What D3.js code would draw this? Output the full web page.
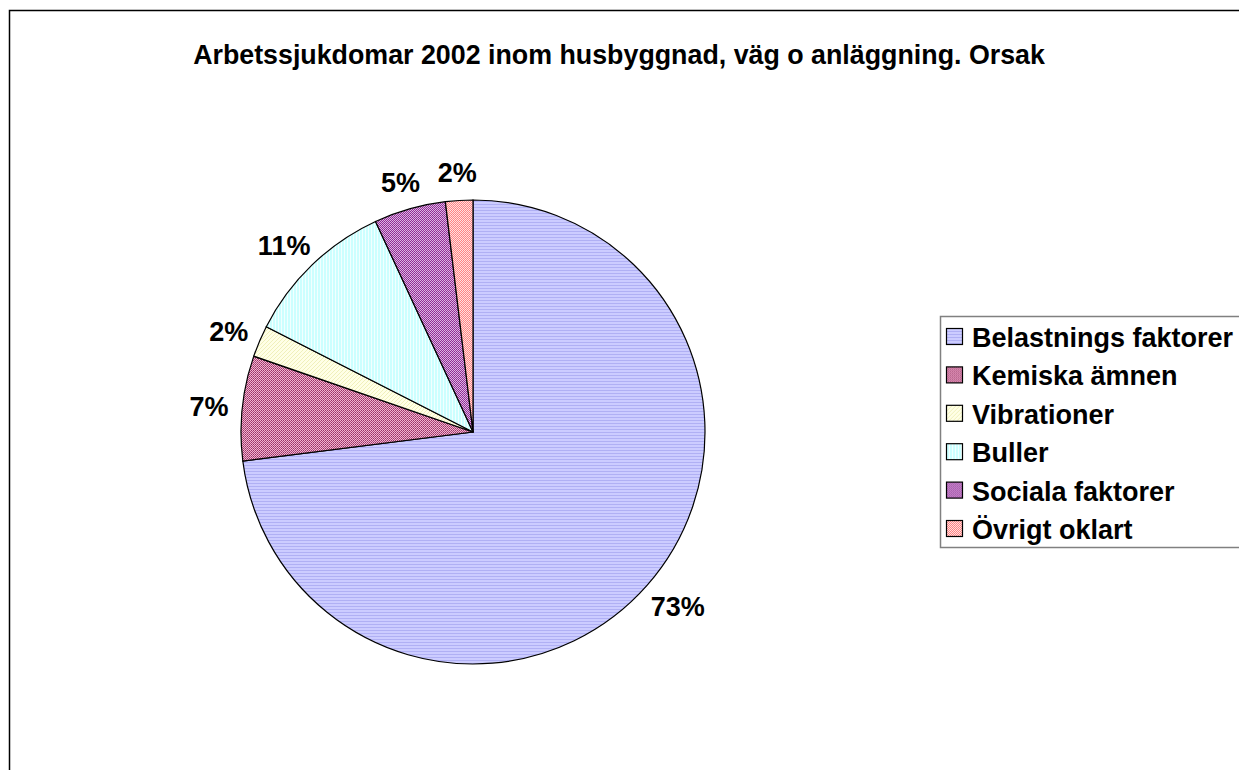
<!DOCTYPE html>
<html>
<head>
<meta charset="utf-8">
<script src="https://cdn.jsdelivr.net/npm/d3@7"></script>
<style>
  body { margin: 0; background: #fff; }
  svg { display: block; font-family: "Liberation Sans", Arial, sans-serif; font-weight: bold; }
</style>
</head>
<body>
<svg id="chart" width="1239" height="770"></svg>
<script>
var TITLE = "Arbetssjukdomar 2002 inom husbyggnad, väg o anläggning. Orsak";
var categories = ["Belastnings faktorer", "Kemiska ämnen", "Vibrationer", "Buller", "Sociala faktorer", "Övrigt oklart"];
var shares = [73.0, 7.3, 2.2, 10.6, 5.0, 1.9];
var labels = ["73%", "7%", "2%", "11%", "5%", "2%"];
var patternIds = ["pBel", "pKem", "pVib", "pBul", "pSoc", "pOvr"];

var svg = d3.select("#chart");
var width = 1239, height = 770;

// fill patterns, close to the old excel hatching
var defs = svg.append("defs");

function addPattern(id, w, h, bg, dots) {
    let p = defs.append("pattern")
        .attr("id", id)
        .attr("patternUnits", "userSpaceOnUse")
        .attr("width", w)
        .attr("height", h);
    p.append("rect").attr("width", w).attr("height", h).attr("fill", bg);
    for (let d of dots) {
        p.append("rect").attr("x", d[0]).attr("y", d[1])
            .attr("width", d[2]).attr("height", d[3]).attr("fill", d[4]);
    }
}

addPattern("pBel", 1, 3, "#ccccff", [[0, 0, 1, 1, "#b0b0f4"]]);
addPattern("pKem", 2, 2, "#f0b4d0", [[0, 0, 1, 1, "#993366"], [1, 1, 1, 1, "#b04a7c"]]);
addPattern("pVib", 4, 4, "#ffffe6", [[3, 0, 1, 1, "#f0f0bb"], [2, 1, 1, 1, "#f0f0bb"], [1, 2, 1, 1, "#f0f0bb"], [0, 3, 1, 1, "#f0f0bb"]]);
addPattern("pBul", 3, 1, "#ccffff", [[0, 0, 1, 1, "#f2ffff"]]);
addPattern("pSoc", 2, 2, "#dcb4e4", [[0, 0, 1, 1, "#993399"], [1, 1, 1, 1, "#8a2a8e"]]);
addPattern("pOvr", 2, 2, "#ffe0e0", [[0, 0, 1, 1, "#ff8080"], [1, 1, 1, 1, "#ff8888"]]);

// chart area border (runs off the right and bottom edges)
svg.append("rect")
    .attr("x", 9.5).attr("y", 10.5)
    .attr("width", width + 20).attr("height", height + 20)
    .attr("fill", "none")
    .attr("stroke", "#000")
    .attr("stroke-width", 1.5);

svg.append("text")
    .attr("x", 619)
    .attr("y", 64)
    .attr("text-anchor", "middle")
    .attr("font-size", 26.8)
    .text(TITLE);

// pie
const cx = 473, cy = 432, radius = 232;
let pie = d3.pie().sort(null).value(d => d);
let arcs = pie(shares);
let arc = d3.arc().innerRadius(0).outerRadius(radius);

let g = svg.append("g").attr("transform", `translate(${cx},${cy})`);

g.selectAll("path.slice")
    .data(arcs)
    .enter().append("path")
    .attr("class", "slice")
    .attr("d", arc)
    .attr("fill", (d, i) => `url(#${patternIds[i]})`)
    .attr("stroke", "#000")
    .attr("stroke-width", 1.2);

// labels pushed just outside the rim
let lbl = g.selectAll("text.lbl")
    .data(arcs)
    .enter().append("text")
    .attr("class", "lbl")
    .attr("font-size", 27)
    .attr("dominant-baseline", "central")
    .attr("text-anchor", "middle")
    .text((d, i) => labels[i]);

lbl.each(function(d) {
    let a = (d.startAngle + d.endAngle) / 2;
    let bb = this.getBBox();
    let r = radius + 14;
    let x = r * Math.sin(a) + bb.width / 2 * Math.sin(a);
    let y = -r * Math.cos(a) - bb.height / 2 * Math.cos(a) + 2;
    d3.select(this).attr("x", x).attr("y", y);
});

// legend
let legend = svg.append("g").attr("transform", "translate(940,316)");
legend.append("rect")
    .attr("x", 0.5).attr("y", 0.5)
    .attr("width", 400).attr("height", 231)
    .attr("fill", "#fff")
    .attr("stroke", "#808080")
    .attr("stroke-width", 1.5);

let rows = legend.selectAll("g.row")
    .data(categories)
    .enter().append("g")
    .attr("class", "row")
    .attr("transform", (d, i) => `translate(0,${21 + i * 38.4})`);

rows.append("rect")
    .attr("x", 6.5).attr("y", -8.5)
    .attr("width", 16).attr("height", 16)
    .attr("fill", (d, i) => `url(#${patternIds[i]})`)
    .attr("stroke", "#000")
    .attr("stroke-width", 1.2);

rows.append("text")
    .attr("x", 32)
    .attr("y", 1)
    .attr("dominant-baseline", "central")
    .attr("font-size", 27)
    .text(d => d);
</script>
</body>
</html>
